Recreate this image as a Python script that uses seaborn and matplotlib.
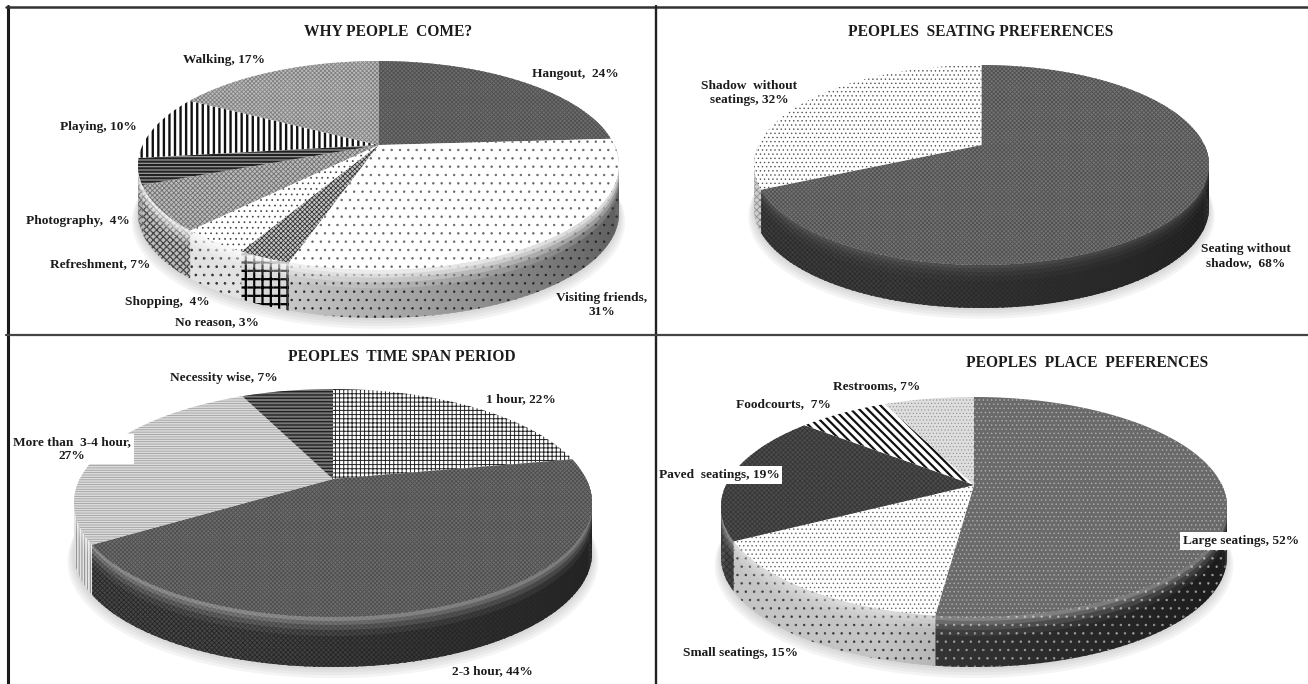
import numpy as np
import matplotlib
matplotlib.use("Agg")
import matplotlib.pyplot as plt
import seaborn as sns
from matplotlib.lines import Line2D
from matplotlib.patches import Polygon
from matplotlib.path import Path
from matplotlib.transforms import Transform

# ---------- data ----------
come_values = [24, 31, 3, 4, 7, 4, 10, 17]
come_labels = ["Hangout,  24%", "Visiting friends,\n31%", "No reason, 3%", "Shopping,  4%",
               "Refreshment, 7%", "Photography,  4%", "Playing, 10%", "Walking, 17%"]
seat_values = [68, 32]
seat_labels = ["Seating without\nshadow,  68%", "Shadow  without\nseatings, 32%"]
time_values = [22, 44, 27, 7]
time_labels = ["1 hour, 22%", "2-3 hour, 44%", "More than  3-4 hour,\n27%", "Necessity wise, 7%"]
place_values = [52, 15, 19, 7, 7]
place_labels = ["Large seatings, 52%", "Small seatings, 15%", "Paved  seatings, 19%",
                "Foodcourts,  7%", "Restrooms, 7%"]
titles = ["WHY PEOPLE  COME?", "PEOPLES  SEATING PREFERENCES",
          "PEOPLES  TIME SPAN PERIOD", "PEOPLES  PLACE  PEFERENCES"]

# ---------- styles and layout ----------
# slice style = (face, hatch, hatch colour, hatch line width)
come_top = [("#6e6e6e", "xxxxxxxx", "#505050", .6), ("white", "..", "#666666", .5),
            ("#c4c4c4", "xxxxxxx", "#333333", .6), ("white", "...", "#444444", .5),
            ("#bcbcbc", "xxxxxxx", "#707070", .6), ("#999999", "-----", "#222222", 1.5),
            ("white", "|||", "#111111", 1.7), ("#bcbcbc", "xxxxxxxx", "#808080", .6)]
come_wall = [("#777777", "xxxxxx", "#444444", .5), ("#c6c6c6", "..", "#222222", .5),
             ("#d8d8d8", "++", "#000000", 1.6), ("#e2e2e2", "..", "#333333", .7),
             ("#bdbdbd", "xxxxx", "#444444", .9), ("#aaaaaa", "xxxx", "#444444", .7),
             ("#bbbbbb", "xxxx", "#444444", .7), ("#bbbbbb", "xxxx", "#444444", .7)]
seat_top = [("#757575", "xxxxxxxx", "#505050", .6), ("white", "....", "#555555", .5)]
seat_wall = [("#3c3c3c", "xxxxxxx", "#282828", .5), ("#cccccc", "xxxxx", "#777777", .5)]
time_top = [("white", "++++", "#222222", .7), ("#6e6e6e", "xxxxxxxx", "#4e4e4e", .6),
            ("#dcdcdc", "-------", "#a0a0a0", .6), ("#777777", "-----", "#222222", 1.0)]
time_wall = [("#666666", "xxxxx", "#333333", .5), ("#474747", "xxxxxxx", "#252525", .6),
             ("#e4e4e4", "||||||", "#777777", .6), ("#666666", "-----", "#333333", .5)]
place_top = [("#6a6a6a", "....", "#b0b0b0", .5), ("white", "....", "#666666", .5),
             ("#4c4c4c", "xxxxxxx", "#353535", .6), ("white", "\\\\\\\\", "#111111", 1.6),
             ("#dedede", ".....", "#999999", .5)]
place_wall = [("#383838", "..", "#a0a0a0", .5), ("#c4c4c4", "..", "#333333", .5),
              ("#444444", "xxxxx", "#2a2a2a", .5), ("#666666", "xxxxx", "#333333", .5),
              ("#888888", "xxxxx", "#333333", .5)]

# geometry in figure pixels: quadrant (x, y, w, h) and pie (apex x, apex y, top, front, half width, depth)
quadrants = [(0, 0, 656, 336), (656, 0, 652, 336), (0, 336, 656, 348), (656, 336, 652, 348)]
pies = [(378.5, 145, 61, 270, 240.5, 48), (981.5, 145, 65, 265, 227.5, 43),
        (333, 479, 389, 617, 259, 50), (974, 485, 397, 617, 253, 50)]
rim_glow = [1.0, .12, .4, .4]
title_xy = [(388, 32), (981, 32), (402, 357), (1087, 363)]
label_xy = [
    [(575, 74), (602, 305), (217, 322), (167, 302), (100, 264), (78, 221), (98, 127), (224, 60)],
    [(1246, 256), (749, 93)],
    [(521, 399), (492, 671), (72, 449), (224, 378)],
    [(1241, 541), (741, 653), (719, 475), (783, 404), (877, 386)],
]
boxed = {"Large seatings, 52%", "Paved  seatings, 19%", "More than  3-4 hour,\n27%"}

sns.set_theme(style="white")
plt.rcParams["font.family"] = ["Liberation Serif", "DejaVu Serif"]
plt.rcParams["font.weight"] = "bold"
TEXT = "#1c1c1c"


class Perspective(Transform):
    """Tilted-disc projection from the unit circle to figure-pixel data units."""
    input_dims = output_dims = 2
    is_affine = False
    has_inverse = False

    def __init__(self, ax_, ay_, top, front, half_width):
        super().__init__()
        up, down = ay_ - top, front - ay_
        self.k = (down - up) / (down + up)
        self.a = up * (1 + self.k)
        self.b = half_width * np.sqrt(1 - self.k ** 2)
        self.ax_, self.ay_ = ax_, ay_

    def transform_non_affine(self, values):
        values = np.asarray(values, float)
        w = 1 + self.k * values[:, 1]
        return np.column_stack([self.ax_ + self.b * values[:, 0] / w,
                                self.ay_ - self.a * values[:, 1] / w])

    def transform_path_non_affine(self, path):
        pts = []
        for bez, code in path.iter_bezier():
            if code == Path.MOVETO:
                pts.append(np.atleast_2d(bez.control_points[0]))
            else:
                pts.append(bez(np.linspace(0, 1, 18))[1:])
        return Path(self.transform_non_affine(np.vstack(pts)), closed=False)


def hatch_width(patch, lw):
    if hasattr(patch, "set_hatch_linewidth"):
        patch.set_hatch_linewidth(lw)
    original = patch.draw

    def draw(renderer):
        with plt.rc_context({"hatch.linewidth": lw}):
            original(renderer)
    patch.draw = draw


def draw_pie(quad, geom, values, labels, top_styles, wall_styles, title, t_xy, l_xy, glow):
    x, y, w, h = quad
    ax = fig.add_axes([x / 1308, 1 - (y + h) / 684, w / 1308, h / 684])
    wedges, _ = ax.pie(values, startangle=90, counterclock=False, radius=1,
                       wedgeprops=dict(linewidth=0, zorder=5))
    proj = Perspective(*geom[:5])
    depth = geom[5]
    ax.set_aspect("auto")
    ax.set_xlim(x, x + w)
    ax.set_ylim(y + h, y)
    ax.axis("off")

    # soft ground shadow
    ring = np.radians(np.linspace(0, 360, 240))
    circle = proj.transform_non_affine(np.column_stack([np.cos(ring), np.sin(ring)]))
    mid = circle.mean(axis=0)
    for i, grow in enumerate([1.025, 1.018, 1.011, 1.005]):
        ax.add_patch(Polygon(mid + (circle - mid) * grow + [0, depth + 2 + 2 * (3 - i)],
                             closed=True, fc="#909090", ec="none", alpha=.09, zorder=1))

    for wedge, top, wall in zip(wedges, top_styles, wall_styles):
        wedge.set_transform(proj + ax.transData)
        wedge.set_clip_on(False)
        wedge.set_facecolor(top[0])
        wedge.set_hatch(top[1])
        wedge.set_edgecolor(top[2])
        hatch_width(wedge, top[3])

        # side wall: many thin shaded strips under the front rim of this slice
        t = np.arange(wedge.theta1, wedge.theta2 + 1.5, 1.5)
        t[-1] = min(t[-1], wedge.theta2)
        for a0, a1 in zip(t[:-1], t[1:]):
            if np.sin(np.radians((a0 + a1) / 2)) >= 0:
                continue
            arc = np.radians(np.linspace(a0, min(a1 + .6, wedge.theta2), 3))
            rim = proj.transform_non_affine(np.column_stack([np.cos(arc), np.sin(arc)]))
            u = np.cos(np.radians((a0 + a1) / 2))
            shade = np.interp(u, [-1, -.3, 1], [1, 1, .45])
            face = np.array(matplotlib.colors.to_rgb(wall[0])) * shade
            strip = Polygon(np.vstack([rim, rim[::-1] + [0, depth]]), closed=True,
                            fc=face, ec=wall[2], hatch=wall[1], lw=0, zorder=3)
            ax.add_patch(strip)
            strip.set_clip_on(False)
            hatch_width(strip, wall[3])

    # white fade along the top of the whole front wall
    front = np.radians(np.linspace(180, 360, 200))
    rim = proj.transform_non_affine(np.column_stack([np.cos(front), np.sin(front)]))
    for frac, alpha in [(.08, .45), (.16, .35), (.26, .25), (.38, .15)]:
        ax.add_patch(Polygon(np.vstack([rim, rim[::-1] + [0, depth * frac]]), closed=True,
                             fc="white", ec="none", alpha=alpha * glow, zorder=4))

    ax.text(t_xy[0], t_xy[1], title, ha="center", va="center", fontsize=11.2,
            color=TEXT, zorder=10)
    for lab, (lx, ly) in zip(labels, l_xy):
        box = dict(fc="white", ec="none", pad=2) if lab in boxed else None
        ax.text(lx, ly, lab, ha="center", va="center", fontsize=9.6, color=TEXT,
                linespacing=1.15, bbox=box, zorder=10, multialignment="center")


fig = plt.figure(figsize=(13.08, 6.84), dpi=100, facecolor="white")
charts = [(come_values, come_labels, come_top, come_wall),
          (seat_values, seat_labels, seat_top, seat_wall),
          (time_values, time_labels, time_top, time_wall),
          (place_values, place_labels, place_top, place_wall)]
for i, (vals, labs, tops, walls) in enumerate(charts):
    draw_pie(quadrants[i], pies[i], vals, labs, tops, walls, titles[i], title_xy[i],
             label_xy[i], rim_glow[i])

# panel frame
def frame(x0, y0, x1, y1, lw, color):
    fig.add_artist(Line2D([x0 / 1308, x1 / 1308], [1 - y0 / 684, 1 - y1 / 684],
                          lw=lw, color=color, zorder=20))


frame(7.5, 6, 7.5, 684, 2.2, "#1a1a1a")
frame(6, 7, 1308, 7, 1.8, "#333333")
frame(656, 6, 656, 684, 1.7, "#222222")
frame(6, 335.5, 1308, 335.5, 1.6, "#444444")

fig.savefig("out.png", dpi=100)
